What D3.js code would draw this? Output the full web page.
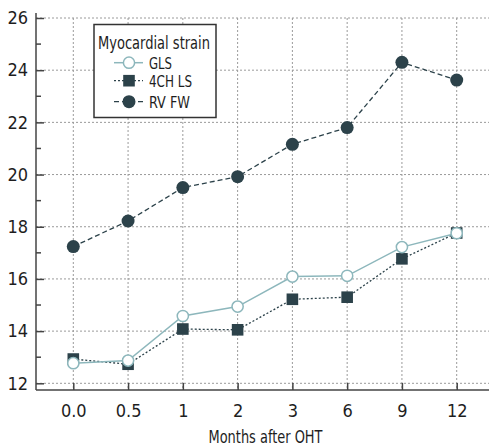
<!DOCTYPE html>
<html><head><meta charset="utf-8">
<script src="https://cdn.jsdelivr.net/npm/d3@7"></script>
<style>
html,body{margin:0;padding:0;background:#fff;}
svg{display:block;font-family:"DejaVu Sans Condensed",sans-serif;}
</style></head>
<body>
<svg id="chart" width="489" height="446"></svg>
<script>
const categories = ["0.0","0.5","1","2","3","6","9","12"];
const gls   = [12.77, 12.87, 14.58, 14.94, 16.09, 16.12, 17.22, 17.75];
const ch4ls = [12.93, 12.73, 14.08, 14.05, 15.22, 15.30, 16.77, 17.76];
const rvfw  = [17.24, 18.22, 19.50, 19.92, 21.16, 21.80, 24.30, 23.62];
const yTicks = [12,14,16,18,20,22,24,26];
const yMinor = [13,15,17,19,21,23,25];
const seriesNames = ["GLS","4CH LS","RV FW"];

const svg = d3.select("#chart");
const pLeft = 36, pRight = 494, pTop = 13, pBottom = 390;
const x = d3.scalePoint().domain(categories).range([73.3, 456.7]);
const y = d3.scaleLinear().domain([12, 26]).range([383.3, 18]);

const dark = "#2c424a", teal = "#8db7bc", grid = "#9a9a9a", axisC = "#444", txt = "#1e1e1e";
const FONT = '"DejaVu Sans Condensed",sans-serif';

// grid
svg.append("g").selectAll("line").data(yTicks).join("line")
  .attr("x1", pLeft).attr("x2", pRight).attr("y1", d=>y(d)).attr("y2", d=>y(d))
  .attr("stroke", grid).attr("stroke-width",1).attr("stroke-dasharray","2,2");
svg.append("g").selectAll("line").data(categories).join("line")
  .attr("x1", d=>x(d)).attr("x2", d=>x(d)).attr("y1", pTop+5).attr("y2", pBottom)
  .attr("stroke", grid).attr("stroke-width",1).attr("stroke-dasharray","2,2");

// y axis
const yAxis = d3.axisLeft(y).tickValues(yTicks).tickSize(-8).tickPadding(8).tickFormat(d3.format("d"));
const gy = svg.append("g").attr("transform",`translate(${pLeft},0)`).call(yAxis);
gy.select(".domain").remove();
gy.selectAll(".tick line").attr("stroke", axisC).attr("stroke-width",1.5);
gy.selectAll(".tick text").attr("fill",txt).style("font-size","18px").style("font-family",FONT);
svg.append("g").selectAll("line").data(yMinor).join("line")
  .attr("x1", pLeft).attr("x2", pLeft+5).attr("y1", d=>y(d)).attr("y2", d=>y(d))
  .attr("stroke", axisC).attr("stroke-width",1.5);
svg.append("line").attr("x1",pLeft).attr("x2",pLeft).attr("y1",pTop).attr("y2",pBottom)
  .attr("stroke",axisC).attr("stroke-width",1.5);

// x axis
const xAxis = d3.axisBottom(x).tickSize(-7).tickPadding(14);
const gx = svg.append("g").attr("transform",`translate(0,${pBottom})`).call(xAxis);
gx.select(".domain").remove();
gx.selectAll(".tick line").attr("stroke", axisC).attr("stroke-width",1.5);
gx.selectAll(".tick text").attr("fill",txt).style("font-size","18px").style("font-family",FONT);
svg.append("line").attr("x1",pLeft).attr("x2",pRight).attr("y1",pBottom).attr("y2",pBottom)
  .attr("stroke",axisC).attr("stroke-width",1.5);

svg.append("text").attr("x",265.5).attr("y",443.3).attr("text-anchor","middle")
  .attr("fill",txt).style("font-size","17.5px")
  .attr("textLength",114).attr("lengthAdjust","spacingAndGlyphs").text("Months after OHT");

const line = d3.line().x((d,i)=>x(categories[i])).y(d=>y(d));

// RV FW
svg.append("path").datum(rvfw).attr("d",line).attr("fill","none")
  .attr("stroke",dark).attr("stroke-width",1.3).attr("stroke-dasharray","5,3");
svg.append("g").selectAll("circle").data(rvfw).join("circle")
  .attr("cx",(d,i)=>x(categories[i])).attr("cy",d=>y(d)).attr("r",6.5).attr("fill",dark);

// 4CH LS
svg.append("path").datum(ch4ls).attr("d",line).attr("fill","none")
  .attr("stroke",dark).attr("stroke-width",1.3).attr("stroke-dasharray","2,2");
svg.append("g").selectAll("rect").data(ch4ls).join("rect")
  .attr("x",(d,i)=>x(categories[i])-5.8).attr("y",d=>y(d)-5.8).attr("width",11.6).attr("height",11.6).attr("fill",dark);

// GLS
svg.append("path").datum(gls).attr("d",line).attr("fill","none")
  .attr("stroke",teal).attr("stroke-width",1.5);
svg.append("g").selectAll("circle").data(gls).join("circle")
  .attr("cx",(d,i)=>x(categories[i])).attr("cy",d=>y(d)).attr("r",5.6)
  .attr("fill","#fff").attr("stroke",teal).attr("stroke-width",1.5);

// legend
const lg = svg.append("g");
lg.append("rect").attr("x",94).attr("y",24.5).attr("width",122).attr("height",93)
  .attr("fill","#fff").attr("stroke","#333").attr("stroke-width",1.5);
lg.append("text").attr("x",98).attr("y",48.5).attr("fill",txt)
  .style("font-size","17px").attr("textLength",112).attr("lengthAdjust","spacingAndGlyphs").text("Myocardial strain");
const ly = [62.7, 80.7, 101.7];
const labW = [23, 43, 41];
lg.append("line").attr("x1",114).attr("x2",143).attr("y1",ly[0]).attr("y2",ly[0]).attr("stroke",teal).attr("stroke-width",1.5);
lg.append("circle").attr("cx",129).attr("cy",ly[0]).attr("r",5.6).attr("fill","#fff").attr("stroke",teal).attr("stroke-width",1.5);
lg.append("line").attr("x1",114).attr("x2",143).attr("y1",ly[1]).attr("y2",ly[1]).attr("stroke",dark).attr("stroke-width",1.3).attr("stroke-dasharray","2,2");
lg.append("rect").attr("x",129-5.8).attr("y",ly[1]-5.8).attr("width",11.6).attr("height",11.6).attr("fill",dark);
lg.append("line").attr("x1",114).attr("x2",143).attr("y1",ly[2]).attr("y2",ly[2]).attr("stroke",dark).attr("stroke-width",1.3).attr("stroke-dasharray","5,3");
lg.append("circle").attr("cx",129).attr("cy",ly[2]).attr("r",6.5).attr("fill",dark);
lg.selectAll("text.lab").data(seriesNames).join("text").attr("class","lab")
  .attr("x",149).attr("y",(d,i)=>ly[i]+5.8).attr("fill",txt).style("font-size","15px")
  .attr("textLength",(d,i)=>labW[i]).attr("lengthAdjust","spacingAndGlyphs").text(d=>d);
</script>
</body></html>
